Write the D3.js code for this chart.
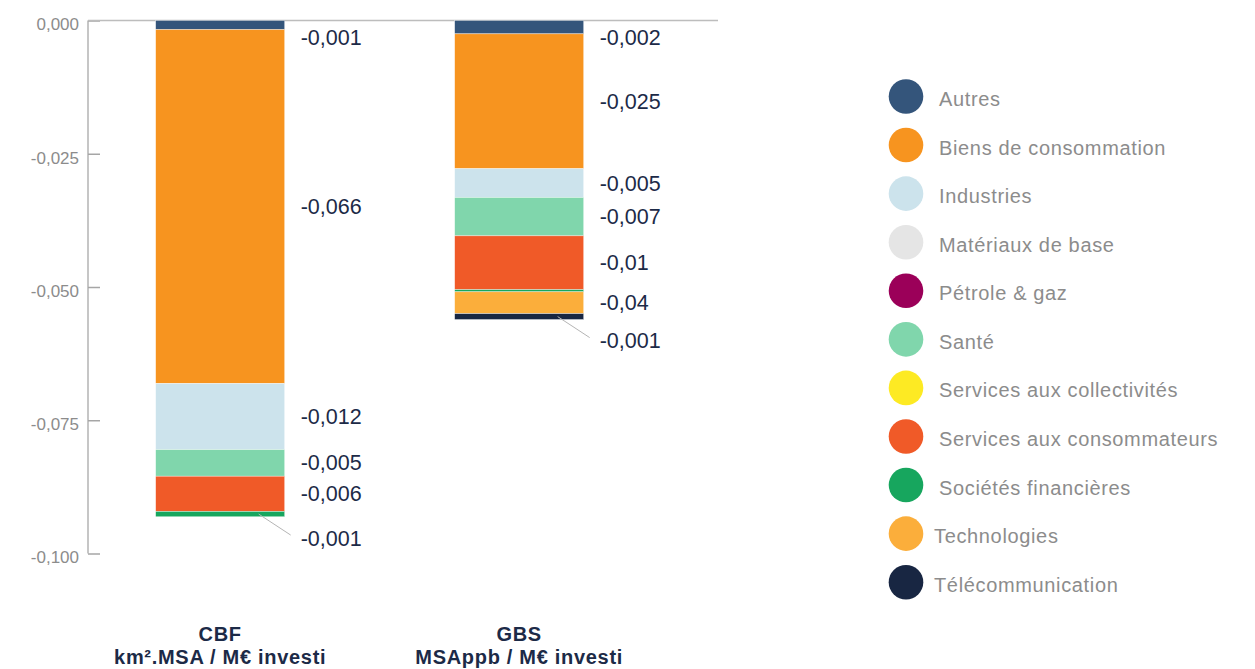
<!DOCTYPE html>
<html>
<head>
<meta charset="utf-8">
<script src="https://cdn.jsdelivr.net/npm/d3@7"></script>
<style>
  html, body { margin: 0; padding: 0; background: #fff; }
  svg { display: block; font-family: "Liberation Sans", Arial, sans-serif; }
</style>
</head>
<body>
<svg id="chart" width="1255" height="669"></svg>
<script>
// Sectors (stack order, top to bottom) and their colours
const sectors = [
  "Autres", "Biens de consommation", "Industries", "Matériaux de base",
  "Pétrole & gaz", "Santé", "Services aux collectivités",
  "Services aux consommateurs", "Sociétés financières", "Technologies",
  "Télécommunication"
];
const sectorColors = [
  "#34557b", "#f7941f", "#cce3ec", "#e5e5e5", "#9b0059", "#80d6ac",
  "#fdea23", "#f05a28", "#17a65e", "#fbae3b", "#182642"
];

// Portfolio indicators
const categories = ["CBF", "GBS"];
const categoryUnits = ["km².MSA / M€ investi", "MSAppb / M€ investi"];

// Contribution of each sector (same order as sectors)
const cbfValues = [-0.0017, -0.0664, -0.0124, 0, 0, -0.0050, 0, -0.0066, -0.0010, 0, 0];
const gbsValues = [-0.0025, -0.0253, -0.0054, 0, 0, -0.0072, 0, -0.0101, -0.0004, -0.0041, -0.0011];

// Printed labels (null when none is shown)
const cbfLabels = ["-0,001", "-0,066", "-0,012", null, null, "-0,005", null, "-0,006", "-0,001", null, null];
const gbsLabels = ["-0,002", "-0,025", "-0,005", null, null, "-0,007", null, "-0,01", null, "-0,04", "-0,001"];

// Y axis ticks
const yTicks = [0, -0.025, -0.05, -0.075, -0.1];
const yTickLabels = ["0,000", "-0,025", "-0,050", "-0,075", "-0,100"];

const series = [
  { cat: categories[0], unit: categoryUnits[0], values: cbfValues, labels: cbfLabels },
  { cat: categories[1], unit: categoryUnits[1], values: gbsValues, labels: gbsLabels }
];

const svg = d3.select("#chart");

const x = d3.scaleBand()
  .domain(categories)
  .range([88, 718])
  .paddingInner(0.5686)
  .paddingOuter(0.3378)
  .align(0.335);

const y = d3.scaleLinear()
  .domain([-0.1, 0])
  .range([553.5, 20.5]);

// Y axis (ticks pointing into the plot)
const yAxis = d3.axisRight(y)
  .tickValues(yTicks)
  .tickSize(12)
  .tickFormat((d, i) => yTickLabels[i]);

const gy = svg.append("g").attr("transform", "translate(88,0)").call(yAxis);
gy.select(".domain").attr("stroke", "#b3b3b3").attr("stroke-width", 1.5)
  .attr("d", `M0,${y(0)}V${y(-0.1)}`);
gy.selectAll(".tick line").attr("stroke", "#a6a6a6").attr("stroke-width", 1.5);
gy.selectAll(".tick text")
  .attr("x", -9).attr("dy", "0.7em").attr("y", -2.5)
  .attr("text-anchor", "end")
  .attr("fill", "#8c8c8c")
  .style("font-size", "17px")
  .style("font-family", "'Liberation Sans', Arial, sans-serif");

// Zero baseline
svg.append("line")
  .attr("x1", 88).attr("x2", 718)
  .attr("y1", y(0)).attr("y2", y(0))
  .attr("stroke", "#bdbdbd").attr("stroke-width", 1.5);

// Stacked bars
series.forEach(s => {
  let acc = 0;
  const segs = s.values.map((v, i) => {
    const top = acc; acc += v;
    return { i, v, y0: top, y1: acc, label: s.labels[i] };
  });
  const bx = x(s.cat), bw = x.bandwidth();
  const g = svg.append("g");

  g.selectAll("rect")
    .data(segs.filter(d => d.v !== 0))
    .join("rect")
    .attr("x", bx)
    .attr("width", bw)
    .attr("y", d => y(d.y0))
    .attr("height", d => y(d.y1) - y(d.y0))
    .attr("fill", d => sectorColors[d.i])
    .attr("stroke", "#ffffff")
    .attr("stroke-opacity", 0.6)
    .attr("stroke-width", 0.6);

  // Value labels to the right of the bar, pushed apart when crowded
  const labelX = bx + bw + 16;
  let lastY = 37 - 22;
  segs.filter(d => d.label).forEach(d => {
    const center = (y(d.y0) + y(d.y1)) / 2;
    const small = (y(d.y1) - y(d.y0)) < 8;
    let ly = small ? center + 24 : center;
    ly = Math.max(ly, lastY + 22, 37);
    lastY = ly;
    if (small) {
      g.append("line")
        .attr("x1", bx + bw - 26).attr("y1", center)
        .attr("x2", labelX - 10).attr("y2", ly - 3)
        .attr("stroke", "#b5b5b5").attr("stroke-width", 1);
    }
    g.append("text")
      .attr("x", labelX)
      .attr("y", ly + 7.5)
      .attr("fill", "#1c2a47")
      .style("font-size", "21.5px")
      .text(d.label);
  });

  // Category label beneath
  svg.append("text")
    .attr("x", bx + bw / 2).attr("y", 640.5)
    .attr("text-anchor", "middle")
    .attr("fill", "#1c2a47")
    .style("font-size", "20px").style("font-weight", "bold")
    .style("letter-spacing", "0.7px")
    .text(s.cat);
  svg.append("text")
    .attr("x", bx + bw / 2).attr("y", 663.5)
    .attr("text-anchor", "middle")
    .attr("fill", "#1c2a47")
    .style("font-size", "20px").style("font-weight", "bold")
    .style("letter-spacing", "0.7px")
    .text(s.unit);
});

// Legend
const legend = svg.append("g").attr("transform", "translate(906,96.5)");
const item = legend.selectAll("g")
  .data(sectors)
  .join("g")
  .attr("transform", (d, i) => `translate(0,${i * 48.57})`);
item.append("circle").attr("r", 17.3).attr("fill", (d, i) => sectorColors[i]);
item.append("text")
  .attr("x", (d, i) => i >= 9 ? 28 : 33)
  .attr("y", 9.5)
  .attr("fill", "#8c8c8c")
  .style("font-size", "20px")
  .style("letter-spacing", "0.65px")
  .text(d => d);
</script>
</body>
</html>
